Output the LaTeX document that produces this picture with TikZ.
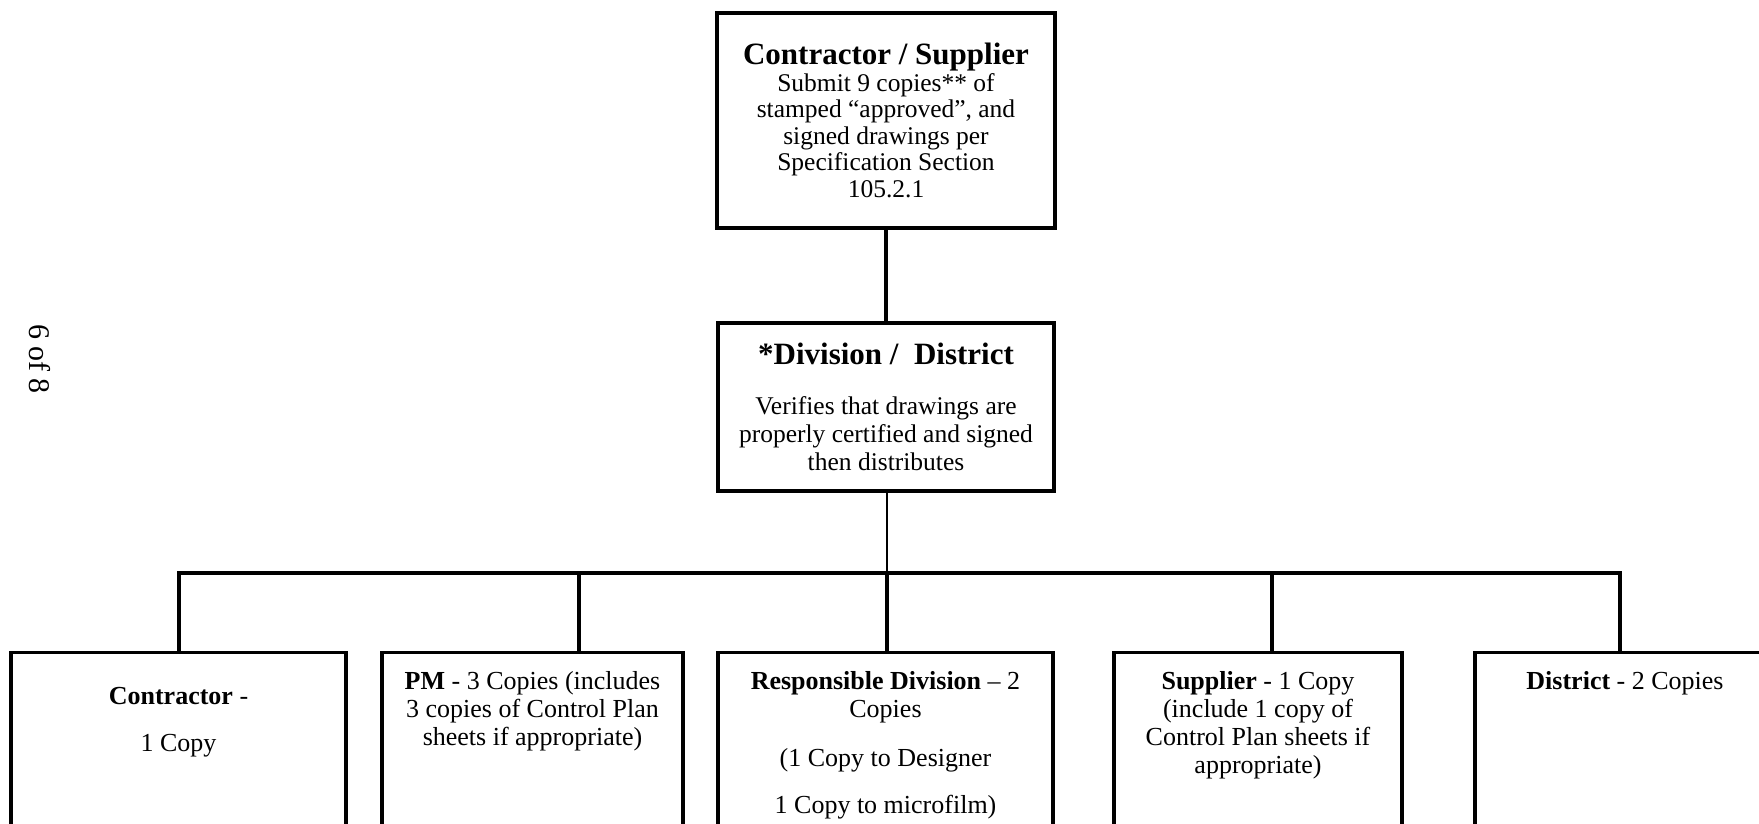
\documentclass[tikz,border=0pt]{standalone}
\usepackage{fontspec}
\setmainfont{Liberation Serif}
\usetikzlibrary{positioning}

\newcommand{\leafbody}[2]{\parbox[t][215pt][t]{#1}{\centering #2}}

\begin{document}
\begin{tikzpicture}[x=1pt,y=-1pt,
		headbox/.style={draw,line width=3.2pt,inner sep=0pt,align=center},
		leafbox/.style={draw,line width=3.2pt,anchor=north,inner xsep=4pt,inner ysep=19pt,
			font=\fontsize{26}{28}\selectfont},
		link/.style={line width=3.2pt},
		thinlink/.style={line width=1.6pt}]
		\useasboundingbox (0,0) rectangle (1759,824);
		\clip (0,0) rectangle (1759,824);

		\node[headbox,minimum width=338pt,minimum height=215pt,font=\fontsize{25.5}{26.6}\selectfont] (submit) at (886,120.5)
			{{\fontsize{31}{26.6}\selectfont\bfseries Contractor / Supplier}\\
			Submit 9 copies** of\\ stamped “approved”, and\\ signed drawings per\\ Specification Section\\ 105.2.1};

		\node[headbox,minimum width=336pt,minimum height=168pt,font=\fontsize{25.5}{28}\selectfont] (verify) at (886,407)
			{{\fontsize{31}{28}\selectfont\bfseries *Division /\ \ District}\\[22pt]
			Verifies that drawings are\\ properly certified and signed\\ then distributes};

		\node[rotate=-90,font=\fontsize{30}{32}\selectfont] (page) at (40,359) {6 of 8};

		% distribution boxes, open at the foot of the page
		\node[leafbox] (contr) at (178.5,651) {\leafbody{327pt}{\vspace*{16pt}\textbf{Contractor} -\\[19pt] 1 Copy}};
		\node[leafbox] (pm) at (532.5,651) {\leafbody{293pt}{\textbf{PM} - 3 Copies (includes\\ 3 copies of Control Plan\\ sheets if appropriate)}};
		\node[leafbox] (resp) at (885.5,651) {\leafbody{327pt}{\textbf{Responsible Division} – 2\\ Copies\\[21pt] (1 Copy to Designer\\[19pt] 1 Copy to microfilm)}};
		\node[leafbox] (suppl) at (1258,651) {\leafbody{280pt}{\textbf{Supplier} - 1 Copy\\ (include 1 copy of\\ Control Plan sheets if\\ appropriate)}};
		\node[leafbox] (distr) at (1625,651) {\leafbody{292pt}{\textbf{District} - 2 Copies}};

		\coordinate (jA) at (179,573);
		\coordinate (jB) at (579,573);
		\coordinate (jC) at (887,573);
		\coordinate (jD) at (1272,573);
		\coordinate (jE) at (1620,573);

		\draw[link] (submit) -- (verify);
		\draw[thinlink] (verify.south -| jC) -- (jC);
		\draw[link] (jA |- contr.north) -- (jA) -- (jE) -- (jE |- distr.north);
		\draw[link] (jB) -- (jB |- pm.north);
		\draw[link] (jC) -- (jC |- resp.north);
		\draw[link] (jD) -- (jD |- suppl.north);
	\end{tikzpicture}
\end{document}
